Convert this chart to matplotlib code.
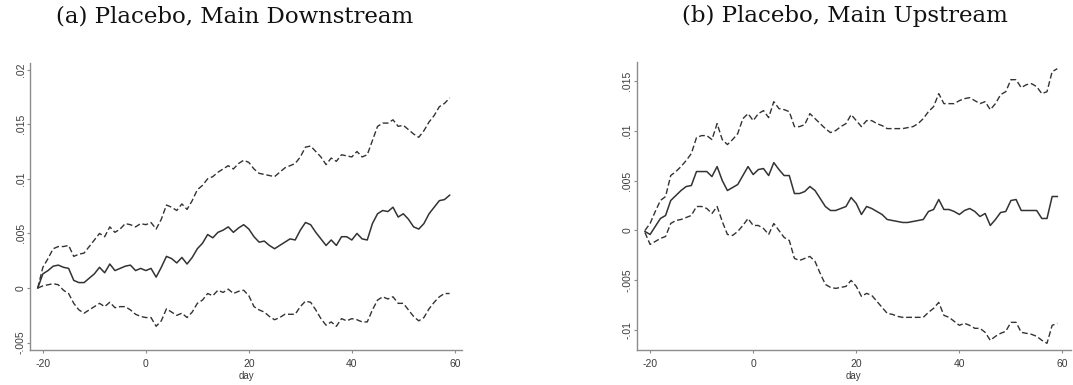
import matplotlib
matplotlib.use("Agg")
import matplotlib.pyplot as plt
import numpy as np

plt.rcParams["axes.unicode_minus"] = False

# Event-time axis (days relative to the event)
days = list(range(-21, 60))

# Panel (a): Placebo, Main Downstream -- cumulative effect and 95% band (units of 0.001)
down_mean = [0.0, 1.3, 1.6, 2.0, 2.1, 1.9, 1.8, 0.7, 0.5, 0.5, 0.9, 1.3, 1.9, 1.4, 2.2, 1.6,
             1.8, 2.0, 2.1, 1.6, 1.8, 1.6, 1.8, 1.0, 1.9, 2.9, 2.7, 2.3, 2.8, 2.2, 2.8, 3.6,
             4.1, 4.9, 4.6, 5.1, 5.3, 5.6, 5.1, 5.5, 5.8, 5.4, 4.7, 4.2, 4.3, 3.9, 3.6, 3.9,
             4.2, 4.5, 4.4, 5.3, 6.0, 5.8, 5.1, 4.5, 3.9, 4.4, 3.9, 4.7, 4.7, 4.4, 5.0, 4.5,
             4.4, 5.9, 6.8, 7.1, 7.0, 7.4, 6.5, 6.8, 6.3, 5.6, 5.4, 5.9, 6.8, 7.4, 8.0, 8.1,
             8.5]
down_upper = [0.0, 1.9, 2.7, 3.6, 3.8, 3.8, 3.9, 2.9, 3.1, 3.2, 3.8, 4.4, 5.0, 4.7, 5.6, 5.1,
              5.4, 5.9, 5.8, 5.6, 5.9, 5.8, 6.0, 5.4, 6.3, 7.6, 7.4, 7.1, 7.7, 7.2, 8.0, 9.0,
              9.4, 10.0, 10.2, 10.6, 10.9, 11.2, 10.9, 11.4, 11.7, 11.5, 10.9, 10.5, 10.4, 10.3,
              10.2, 10.6, 11.0, 11.2, 11.4, 12.0, 12.9, 13.0, 12.5, 12.0, 11.3, 11.9, 11.6, 12.2,
              12.1, 12.0, 12.5, 12.0, 12.2, 13.5, 14.8, 15.1, 15.1, 15.4, 14.8, 14.9, 14.5, 14.1,
              13.8, 14.4, 15.2, 15.8, 16.6, 16.9, 17.4]
down_lower = [0.0, 0.2, 0.3, 0.4, 0.3, -0.2, -0.5, -1.4, -2.0, -2.3, -2.0, -1.7, -1.4, -1.7,
              -1.3, -1.8, -1.7, -1.7, -2.0, -2.4, -2.6, -2.7, -2.7, -3.5, -3.0, -1.9, -2.2, -2.5,
              -2.3, -2.7, -2.2, -1.4, -1.1, -0.5, -0.7, -0.2, -0.4, -0.1, -0.5, -0.3, -0.2, -0.7,
              -1.7, -2.0, -2.2, -2.6, -2.9, -2.7, -2.4, -2.4, -2.4, -1.7, -1.2, -1.3, -2.0, -2.8,
              -3.4, -3.1, -3.5, -2.8, -3.0, -2.8, -2.9, -3.1, -3.1, -2.0, -1.1, -0.8, -1.0, -0.8,
              -1.4, -1.4, -2.0, -2.6, -3.0, -2.7, -1.9, -1.3, -0.8, -0.5, -0.5]

# Panel (b): Placebo, Main Upstream (units of 0.001)
up_mean = [-0.1, -0.4, 0.4, 1.2, 1.5, 3.0, 3.5, 4.0, 4.4, 4.5, 5.9, 5.9, 5.9, 5.4, 6.4, 5.0,
           4.0, 4.3, 4.6, 5.5, 6.4, 5.6, 6.1, 6.2, 5.5, 6.8, 6.1, 5.5, 5.5, 3.7, 3.7, 3.9,
           4.4, 4.0, 3.2, 2.4, 2.0, 2.0, 2.2, 2.4, 3.3, 2.7, 1.6, 2.4, 2.2, 1.9, 1.6, 1.1,
           1.0, 0.9, 0.8, 0.8, 0.9, 1.0, 1.1, 1.9, 2.1, 3.1, 2.1, 2.1, 1.9, 1.6, 2.0, 2.2,
           1.9, 1.4, 1.7, 0.5, 1.1, 1.8, 1.9, 3.0, 3.1, 2.0, 2.0, 2.0, 2.0, 1.2, 1.2, 3.4,
           3.4]
up_upper = [0.0, 0.7, 1.9, 3.0, 3.4, 5.5, 5.9, 6.4, 7.0, 7.7, 9.3, 9.5, 9.5, 9.1, 10.7, 9.1,
            8.6, 9.1, 9.7, 11.2, 11.7, 11.0, 11.7, 12.0, 11.3, 12.9, 12.2, 12.1, 11.9, 10.4,
            10.4, 10.6, 11.7, 11.2, 10.7, 10.2, 9.8, 10.0, 10.4, 10.7, 11.6, 11.0, 10.4, 11.0,
            11.0, 10.7, 10.5, 10.2, 10.2, 10.2, 10.2, 10.3, 10.4, 10.7, 11.2, 11.9, 12.4, 13.7,
            12.7, 12.7, 12.7, 13.0, 13.2, 13.3, 13.0, 12.7, 12.9, 12.1, 12.7, 13.6, 13.9, 15.1,
            15.1, 14.3, 14.6, 14.7, 14.4, 13.7, 13.9, 15.9, 16.2]
up_lower = [-0.2, -1.4, -1.1, -0.8, -0.6, 0.7, 1.0, 1.1, 1.3, 1.5, 2.4, 2.4, 2.2, 1.7, 2.4,
            0.9, -0.4, -0.5, -0.1, 0.5, 1.2, 0.5, 0.5, 0.2, -0.4, 0.7, 0.0, -0.7, -1.0, -2.8,
            -3.0, -2.8, -2.6, -3.1, -4.3, -5.4, -5.7, -5.8, -5.7, -5.6, -5.0, -5.6, -6.6, -6.3,
            -6.5, -7.1, -7.7, -8.3, -8.4, -8.6, -8.7, -8.7, -8.7, -8.7, -8.7, -8.2, -7.8, -7.2,
            -8.5, -8.7, -9.1, -9.5, -9.3, -9.5, -9.8, -9.8, -10.2, -11.0, -10.6, -10.3, -10.1,
            -9.2, -9.2, -10.2, -10.3, -10.4, -10.6, -11.0, -11.3, -9.5, -9.3]

titles = ["(a) Placebo, Main Downstream", "(b) Placebo, Main Upstream"]
xticks = [-20, 0, 20, 40, 60]
yticks_a = [-0.005, 0, 0.005, 0.01, 0.015, 0.02]
yticks_b = [-0.01, -0.005, 0, 0.005, 0.01, 0.015]


def stata_fmt(v, pos=None):
    if abs(v) < 1e-12:
        return "0"
    s = f"{v:g}"
    return s.replace("0.", ".")


LINE = "#333333"
AXIS = "#8c8c8c"
TXT = "#3c3c3c"

fig = plt.figure(figsize=(10.73, 3.85), dpi=100)

panels = [
    dict(rect=[30 / 1073, 35 / 385, 432 / 1073, 287 / 385], xlim=(-22.5, 61.4),
         ylim=(-0.00567, 0.0206), yticks=yticks_a,
         series=(down_mean, down_upper, down_lower), title=titles[0], tx=235),
    dict(rect=[636.7 / 1073, 35 / 385, 434 / 1073, 288.3 / 385], xlim=(-22.6, 61.6),
         ylim=(-0.01197, 0.0169), yticks=yticks_b,
         series=(up_mean, up_upper, up_lower), title=titles[1], tx=845),
]

for p in panels:
    ax = fig.add_axes(p["rect"])
    mean, upper, lower = (np.asarray(s) / 1000.0 for s in p["series"])
    ax.plot(days, upper, color=LINE, lw=1.0, dashes=(4.2, 2.0))
    ax.plot(days, mean, color=LINE, lw=1.1, solid_joinstyle="round")
    ax.plot(days, lower, color=LINE, lw=1.0, dashes=(4.2, 2.0))

    ax.set_xlim(*p["xlim"])
    ax.set_ylim(*p["ylim"])
    ax.set_xticks(xticks)
    ax.set_yticks(p["yticks"])
    ax.yaxis.set_major_formatter(plt.FuncFormatter(stata_fmt))
    for lab in ax.get_yticklabels():
        lab.set_rotation(90)
        lab.set_va("center")
    ax.tick_params(axis="y", length=2.2, width=0.8, color=AXIS, labelsize=7.5,
                   labelcolor=TXT, pad=1)
    ax.tick_params(axis="x", length=2.2, width=0.8, color=AXIS, labelsize=7.5,
                   labelcolor=TXT, pad=4)
    for t in ax.get_xticklabels() + ax.get_yticklabels():
        t.set_family("Liberation Sans")
    for side in ("top", "right"):
        ax.spines[side].set_visible(False)
    for side in ("left", "bottom"):
        ax.spines[side].set_color(AXIS)
        ax.spines[side].set_linewidth(1.0)
    ax.set_xlabel("day", fontsize=7, color=TXT, labelpad=1.5, family="Liberation Sans")
    ax.patch.set_facecolor("white")

    fig.text(p["tx"] / 1073, 1 - 16 / 385, p["title"], ha="center", va="center",
             fontsize=16.5, family="DejaVu Serif", color="#111111")

fig.savefig("out.png", dpi=100, facecolor="white")
